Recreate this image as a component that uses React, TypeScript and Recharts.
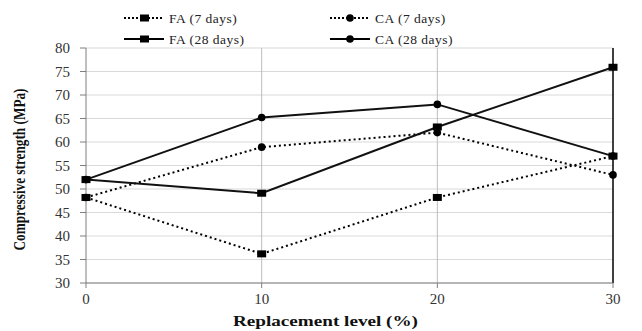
import { LineChart, Line, XAxis, YAxis, CartesianGrid, ReferenceLine, Label } from "recharts";

// replacement level (%) on x, compressive strength (MPa) on y
const levels = [0, 10, 20, 30];
const fa7 = [48.2, 36.2, 48.2, 57];
const ca7 = [48.2, 58.9, 62, 53];
const fa28 = [52, 49.1, 63.2, 75.9];
const ca28 = [52, 65.2, 68, 57];
const xTicks = [0, 10, 20, 30];
const yTicks = [30, 35, 40, 45, 50, 55, 60, 65, 70, 75, 80];

const data = levels.map((level, i) => ({
  level,
  fa7: fa7[i],
  ca7: ca7[i],
  fa28: fa28[i],
  ca28: ca28[i],
}));

const serif = "'Liberation Serif', 'Times New Roman', serif";

const Square = (props: any) => {
  const { cx, cy, index } = props;
  return <rect key={`sq-${index}`} x={cx - 4.5} y={cy - 3.5} width={9} height={7} fill="#000" />;
};

const Circle = (props: any) => {
  const { cx, cy, index } = props;
  return <circle key={`ci-${index}`} cx={cx} cy={cy} r={3.8} fill="#000" />;
};

const legendItems = [
  { name: "FA (7 days)", dotted: true, square: true, x: 124, y: 18 },
  { name: "CA (7 days)", dotted: true, square: false, x: 330, y: 18 },
  { name: "FA (28 days)", dotted: false, square: true, x: 124, y: 39 },
  { name: "CA (28 days)", dotted: false, square: false, x: 330, y: 39 },
];

function ChartLegend() {
  return (
    <svg width={642} height={50} style={{ position: "absolute", top: 0, left: 0 }}>
      {legendItems.map((it) => (
        <g key={it.name}>
          <line
            x1={it.x}
            x2={it.x + 40}
            y1={it.y}
            y2={it.y}
            stroke="#000"
            strokeWidth={2}
            strokeDasharray={it.dotted ? "2 2" : undefined}
          />
          {it.square ? (
            <rect x={it.x + 16} y={it.y - 3.5} width={9} height={7} fill="#000" />
          ) : (
            <circle cx={it.x + 20} cy={it.y} r={3.8} fill="#000" />
          )}
          <text x={it.x + 45} y={it.y + 5} fontFamily={serif} fontSize={13.5} fill="#222" letterSpacing={0.5}>
            {it.name}
          </text>
        </g>
      ))}
    </svg>
  );
}

const YTitle = (props: any) => {
  const { viewBox } = props;
  const cy = viewBox.y + viewBox.height / 2 + 4;
  return (
    <text
      x={19}
      y={cy}
      transform={`rotate(-90, 19, ${cy})`}
      textAnchor="middle"
      dominantBaseline="central"
      fontFamily={serif}
      fontWeight="bold"
      fontSize={16}
      fill="#111"
      textLength={162}
      lengthAdjust="spacingAndGlyphs"
    >
      Compressive strength (MPa)
    </text>
  );
};

const XTitle = (props: any) => {
  const { viewBox } = props;
  const cx = viewBox.x + viewBox.width / 2 - 24;
  return (
    <text
      x={cx}
      y={326}
      textAnchor="middle"
      fontFamily={serif}
      fontWeight="bold"
      fontSize={15}
      fill="#111"
      textLength={185}
      lengthAdjust="spacingAndGlyphs"
    >
      Replacement level  (%)
    </text>
  );
};

export default function App() {
  return (
    <div style={{ position: "relative", width: 642, height: 331, background: "#fff" }}>
      <style>{"body{margin:0}"}</style>
      <LineChart width={642} height={331} data={data} margin={{ top: 48, right: 29, bottom: 18, left: 0 }}>
        <CartesianGrid stroke="#d9d9d9" strokeWidth={1.2} vertical={false} />
        <ReferenceLine x={10} stroke="#bdbdbd" />
        <ReferenceLine x={20} stroke="#bdbdbd" />
        <ReferenceLine x={30} stroke="#000" strokeWidth={1.5} />
        <XAxis
          dataKey="level"
          type="number"
          domain={[0, 30]}
          ticks={xTicks}
          interval={0}
          height={30}
          stroke="#7f7f7f"
          tickSize={5}
          tickMargin={5}
          tick={{ fontFamily: serif, fontSize: 15, fill: "#333" }}
        >
          <Label content={<XTitle />} />
        </XAxis>
        <YAxis
          type="number"
          domain={[30, 80]}
          ticks={yTicks}
          interval={0}
          width={86}
          stroke="#7f7f7f"
          tickSize={6}
          tickMargin={10}
          tick={{ fontFamily: serif, fontSize: 15, fill: "#333" }}
        >
          <Label content={<YTitle />} />
        </YAxis>
        <Line dataKey="fa7" stroke="#000" strokeWidth={2} strokeDasharray="2 3" dot={Square} activeDot={false} isAnimationActive={false} />
        <Line dataKey="ca7" stroke="#000" strokeWidth={2} strokeDasharray="2 3" dot={Circle} activeDot={false} isAnimationActive={false} />
        <Line dataKey="fa28" stroke="#111" strokeWidth={2} dot={Square} activeDot={false} isAnimationActive={false} />
        <Line dataKey="ca28" stroke="#111" strokeWidth={2} dot={Circle} activeDot={false} isAnimationActive={false} />
      </LineChart>
      <ChartLegend />
    </div>
  );
}
